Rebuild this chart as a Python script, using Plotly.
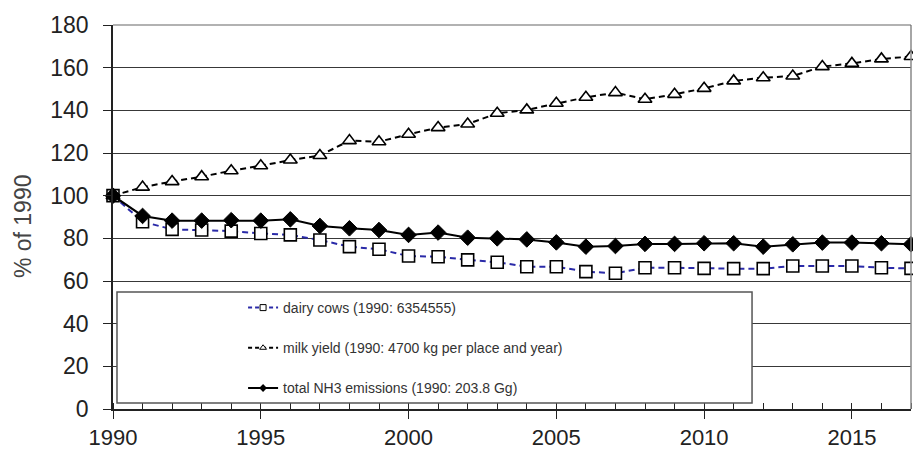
import plotly.graph_objects as go

years = list(range(1990, 2018))

dairy_cows = [100, 87.8, 84.2, 83.9, 83.4, 82.3, 81.6, 79.2, 76.1, 74.9, 71.7, 71.4, 69.9, 68.8,
              66.7, 66.7, 64.4, 63.6, 66.2, 66.2, 65.9, 65.8, 65.8, 67.0, 67.0, 67.0, 66.2, 65.9]
milk_yield = [100, 104.0, 106.6, 108.9, 111.7, 114.0, 116.7, 118.8, 125.8, 125.3, 128.8, 131.9, 133.6, 138.6,
              140.2, 143.3, 146.1, 148.3, 145.2, 147.5, 150.3, 153.8, 155.3, 156.1, 160.5, 162.0, 164.1, 165.2]
nh3_total = [100, 90.5, 88.3, 88.3, 88.5, 88.3, 88.9, 85.8, 84.7, 83.9, 81.6, 82.7, 80.3, 80.0,
             79.5, 78.1, 76.1, 76.4, 77.4, 77.4, 77.7, 77.7, 76.1, 77.2, 78.0, 78.0, 77.7, 77.2]

names = ["dairy cows (1990: 6354555)",
         "milk yield (1990: 4700 kg per place and year)",
         "total NH3 emissions (1990: 203.8 Gg)"]

x_ticks = [1990, 1995, 2000, 2005, 2010, 2015]
y_ticks = [0, 20, 40, 60, 80, 100, 120, 140, 160, 180]

FONT = "Liberation Sans, Arial, sans-serif"
BLUE = "#2a2aa8"

fig = go.Figure()

fig.add_trace(go.Scatter(
    x=years, y=dairy_cows, mode="lines+markers", showlegend=False, cliponaxis=False,
    line=dict(color=BLUE, width=2, dash="6px,4px"),
    marker=dict(symbol="square", size=12, color="white", line=dict(color="black", width=1.6))))
fig.add_trace(go.Scatter(
    x=years, y=milk_yield, mode="lines+markers", showlegend=False, cliponaxis=False,
    line=dict(color="black", width=2, dash="6px,4px"),
    marker=dict(symbol="triangle-up", size=12, color="white", line=dict(color="black", width=1.6))))
fig.add_trace(go.Scatter(
    x=years, y=nh3_total, mode="lines+markers", showlegend=False, cliponaxis=False,
    line=dict(color="black", width=2),
    marker=dict(symbol="diamond", size=12, color="black", line=dict(color="black", width=1))))

# legend entries (small symbols as in the reference)
fig.add_trace(go.Scatter(
    x=[None], y=[None], mode="lines+markers", name=names[0], legendgroup="g1",
    line=dict(color=BLUE, width=2, dash="4px,3px"),
    marker=dict(symbol="square", size=6, color="white", line=dict(color="black", width=1))))
fig.add_trace(go.Scatter(
    x=[None], y=[None], mode="lines+markers", name=names[1], legendgroup="g2",
    line=dict(color="black", width=2, dash="4px,3px"),
    marker=dict(symbol="triangle-up", size=6, color="white", line=dict(color="black", width=1))))
fig.add_trace(go.Scatter(
    x=[None], y=[None], mode="lines+markers", name=names[2], legendgroup="g3",
    line=dict(color="black", width=2),
    marker=dict(symbol="diamond", size=6, color="black")))

fig.update_layout(
    width=913, height=450,
    margin=dict(l=113, r=2, t=25, b=41, autoexpand=False),
    paper_bgcolor="white", plot_bgcolor="white",
    font=dict(family=FONT, color="#222"),
    showlegend=True,
    legend=dict(x=0.163, y=0.3047, xanchor="left", yanchor="top",
                bgcolor="rgba(0,0,0,0)", borderwidth=0,
                font=dict(size=14, color="#333", family=FONT),
                traceorder="grouped", tracegroupgap=19),
    xaxis=dict(range=[1990, 2017], tickvals=x_ticks, ticktext=[str(v) for v in x_ticks],
               automargin=False,
               showgrid=False, zeroline=False,
               showline=True, linecolor="#222", linewidth=1.5,
               ticks="outside", ticklen=8, tickwidth=1.2, tickcolor="#222",
               ticklabelstandoff=0,
               minor=dict(ticks="inside", dtick=1, ticklen=6, tickwidth=1, tickcolor="#222"),
               tickfont=dict(size=22, color="#222", family=FONT)),
    yaxis=dict(range=[0, 180], tickvals=y_ticks, automargin=False,
               showgrid=True, gridcolor="#383838", gridwidth=1.3, zeroline=False,
               showline=True, linecolor="#222", linewidth=1.5, mirror=False,
               ticks="outside", ticklen=8, tickwidth=1.2, tickcolor="#222",
               ticklabelstandoff=10,
               tickfont=dict(size=23, color="#222", family=FONT)),
    shapes=[
        dict(type="rect", xref="paper", yref="paper", x0=0.005, x1=0.8008, y0=0.0156, y1=0.3047,
             fillcolor="white", line=dict(color="#555", width=1.5), layer="above"),
        dict(type="line", xref="paper", yref="paper", x0=1, x1=1, y0=0, y1=1,
             line=dict(color="#888", width=1.5), layer="above"),
        dict(type="line", xref="paper", yref="paper", x0=0, x1=1, y0=1, y1=1,
             line=dict(color="#666", width=1.2), layer="above"),
    ],
    annotations=[
        dict(text="% of 1990", xref="paper", yref="paper", x=-0.1134, y=0.475,
             xanchor="center", yanchor="middle", textangle=-90, showarrow=False,
             font=dict(size=23, color="#444", family=FONT)),
    ],
)

fig.write_html("out.html", config={"displayModeBar": False},
               post_script="document.body.style.margin='0';document.body.style.overflow='hidden';")
